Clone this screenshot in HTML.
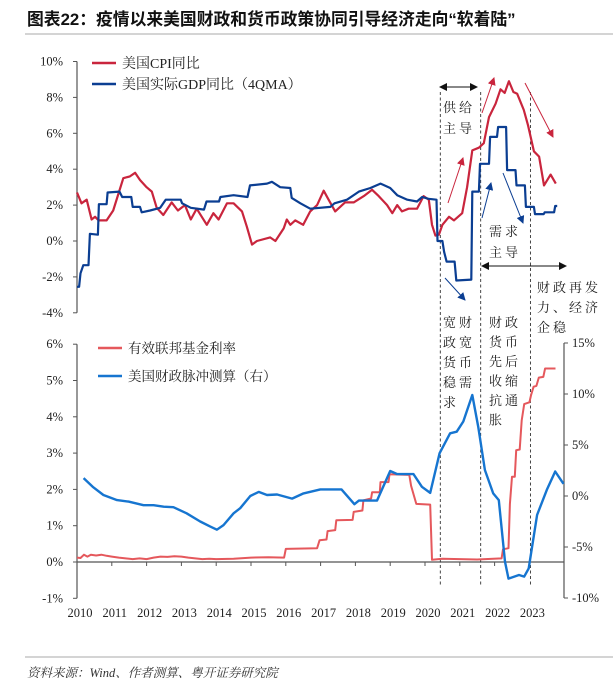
<!DOCTYPE html>
<html><head><meta charset="utf-8">
<style>
html,body{margin:0;padding:0;background:#fff;}
body{width:613px;height:693px;overflow:hidden;position:relative;font-family:"Liberation Serif","Noto Serif CJK SC",serif;}
#title{position:absolute;left:27px;top:6px;font-family:"Liberation Sans","Noto Sans CJK SC",sans-serif;font-weight:bold;font-size:16.8px;color:#111;white-space:nowrap;}
#footer{position:absolute;left:27px;top:663px;font-style:italic;font-size:12.5px;color:#333;font-family:"Liberation Serif","Noto Serif CJK SC",serif;}
svg{position:absolute;left:0;top:0;}
</style></head><body>
<div id="title">图表22：疫情以来美国财政和货币政策协同引导经济走向“软着陆”</div>
<div id="footer">资料来源：Wind、作者测算、粤开证券研究院</div>
<svg id="chart" width="613" height="693"></svg>
<script>
// ---- data ----
const cpiDates=[2010.0,2010.13,2010.28,2010.42,2010.52,2010.62,2010.85,2011.04,2011.33,2011.52,2011.67,2011.81,2012.0,2012.15,2012.29,2012.48,2012.72,2012.9,2013.1,2013.27,2013.44,2013.73,2013.92,2014.07,2014.31,2014.5,2014.74,2014.88,2015.03,2015.17,2015.55,2015.7,2015.94,2016.03,2016.13,2016.27,2016.5,2016.7,2016.9,2017.09,2017.23,2017.42,2017.7,2017.95,2018.24,2018.48,2018.67,2018.91,2019.06,2019.2,2019.34,2019.53,2019.77,2019.96,2020.11,2020.2,2020.3,2020.4,2020.5,2020.69,2020.83,2021.07,2021.21,2021.36,2021.55,2021.69,2021.84,2022.03,2022.17,2022.29,2022.41,2022.54,2022.65,2022.84,2022.96,2023.13,2023.28,2023.42,2023.61,2023.76];
const cpiValues=[2.7,2.1,2.3,1.2,1.35,1.15,1.15,1.7,3.5,3.6,3.8,3.4,3.0,2.75,1.85,1.45,2.15,1.7,2.0,1.2,1.8,0.9,1.55,1.2,2.1,2.1,1.65,0.8,-0.2,0.0,0.2,0.0,0.7,1.2,0.9,1.15,0.9,1.65,2.0,2.8,2.3,1.65,2.15,2.15,2.5,2.85,2.5,2.0,1.55,2.0,1.65,1.8,1.8,2.5,2.3,0.9,0.3,0.35,0.9,1.35,1.15,1.55,3.0,5.05,5.2,5.45,6.9,7.65,8.45,8.25,8.9,8.3,8.2,7.3,6.45,5.0,4.7,3.1,3.7,3.2];
const gdpDates=[2010.0,2010.06,2010.1,2010.18,2010.33,2010.37,2010.6,2010.63,2010.85,2010.88,2011.22,2011.3,2011.56,2011.6,2011.81,2011.86,2012.1,2012.39,2012.55,2012.98,2013.02,2013.27,2013.65,2013.72,2014.08,2014.12,2014.5,2014.9,2014.97,2015.46,2015.6,2015.84,2016.13,2016.17,2016.42,2016.7,2017.28,2017.4,2017.76,2018.1,2018.43,2018.72,2019.0,2019.2,2019.49,2019.77,2019.92,2020.1,2020.33,2020.36,2020.5,2020.55,2020.62,2020.85,2020.9,2021.33,2021.36,2021.55,2021.58,2021.84,2021.87,2022.07,2022.1,2022.33,2022.36,2022.6,2022.63,2022.87,2022.9,2023.13,2023.16,2023.41,2023.44,2023.71,2023.74,2023.8];
const gdpValues=[-2.55,-2.55,-1.8,-1.35,-1.35,0.4,0.35,2.05,2.05,2.7,2.75,2.45,2.45,1.9,1.9,1.6,1.7,1.85,2.3,2.3,2.1,1.85,1.75,2.2,2.2,2.45,2.55,2.45,3.1,3.2,3.3,3.0,2.95,2.4,2.1,1.8,1.9,2.1,2.3,2.75,2.95,3.2,2.95,2.55,2.3,2.2,2.45,2.35,2.3,0.0,0.0,-0.6,-1.15,-1.15,-2.2,-2.15,2.75,2.75,4.3,4.3,5.8,5.8,6.35,6.35,3.95,3.95,3.1,3.1,1.9,1.9,1.5,1.5,1.6,1.6,1.95,1.95];
const fedDates=[2010.0,2010.1,2010.2,2010.3,2010.4,2010.55,2010.7,2010.85,2011.0,2011.2,2011.4,2011.6,2011.8,2012.0,2012.2,2012.4,2012.6,2012.8,2013.0,2013.2,2013.4,2013.6,2013.8,2014.0,2014.5,2015.0,2015.5,2015.95,2016.0,2016.9,2016.97,2017.17,2017.2,2017.42,2017.45,2017.92,2017.95,2018.2,2018.23,2018.45,2018.48,2018.7,2018.72,2018.95,2018.98,2019.55,2019.6,2019.75,2020.15,2020.2,2020.5,2021.0,2021.5,2022.2,2022.24,2022.4,2022.44,2022.5,2022.58,2022.62,2022.72,2022.78,2022.85,2023.0,2023.05,2023.12,2023.2,2023.27,2023.4,2023.45,2023.75];
const fedValues=[0.12,0.11,0.2,0.15,0.2,0.18,0.2,0.17,0.15,0.12,0.1,0.08,0.1,0.08,0.12,0.15,0.14,0.16,0.15,0.12,0.1,0.08,0.09,0.08,0.09,0.12,0.13,0.12,0.36,0.38,0.6,0.62,0.85,0.88,1.15,1.16,1.38,1.42,1.7,1.75,1.92,1.92,2.2,2.2,2.42,2.4,2.1,1.6,1.58,0.06,0.09,0.08,0.07,0.1,0.35,0.38,1.6,2.35,2.35,3.08,3.1,3.9,4.35,4.4,4.6,4.83,4.85,5.08,5.1,5.33,5.33];
const fiscalDates=[2010.19,2010.45,2010.76,2011.15,2011.48,2011.91,2012.2,2012.49,2012.77,2013.15,2013.54,2013.83,2014.02,2014.21,2014.5,2014.69,2014.98,2015.22,2015.46,2015.75,2016.18,2016.51,2016.99,2017.6,2017.97,2018.1,2018.62,2019.0,2019.2,2019.67,2019.91,2020.15,2020.42,2020.72,2020.91,2021.1,2021.36,2021.53,2021.72,2021.96,2022.12,2022.3,2022.4,2022.7,2022.85,2022.98,2023.22,2023.5,2023.74,2023.98];
const fiscalValues=[1.75,0.9,0.1,-0.4,-0.55,-0.9,-0.9,-1.05,-1.1,-1.7,-2.5,-3.0,-3.3,-2.85,-1.7,-1.2,0.0,0.4,0.1,0.15,-0.25,0.25,0.65,0.65,-0.8,-0.45,-0.45,2.45,2.15,2.15,0.9,0.3,4.2,6.15,6.3,7.3,9.9,6.8,2.55,0.25,-0.4,-6.45,-8.1,-7.75,-7.9,-7.1,-1.85,0.6,2.4,1.2];
const topTicks=[10,8,6,4,2,0,-2,-4];
const leftTicks=[6,5,4,3,2,1,0,-1];
const rightTicks=[15,10,5,0,-5,-10];
const years=[2010,2011,2012,2013,2014,2015,2016,2017,2018,2019,2020,2021,2022,2023];

// ---- scales ----
const X=t=>77+(t-2010)*34.8;
const YT=v=>241-v*17.95;
const YL=v=>562-v*36.3;
const YR=v=>496-v*10.2;
const NS='http://www.w3.org/2000/svg';
const svg=document.getElementById('chart');
function el(tag,attrs,parent){const e=document.createElementNS(NS,tag);for(const k in attrs)e.setAttribute(k,attrs[k]);(parent||svg).appendChild(e);return e;}
function txt(s,x,y,anchor,size,fill,parent){const t=el('text',{x:x,y:y,'text-anchor':anchor,'font-size':size,fill:fill||'#222','font-family':'"Liberation Serif","Noto Serif CJK SC",serif'},parent);t.textContent=s;return t;}
function path(dates,vals,ys,color,w,name){let d='';for(let i=0;i<dates.length;i++){d+=(i?'L':'M')+X(dates[i]).toFixed(1)+','+ys(vals[i]).toFixed(1);}const p=el('path',{d:d,fill:'none',stroke:color,'stroke-width':w,'stroke-linejoin':'round'});


return p;}

el('line',{x1:25,y1:34,x2:613,y2:34,stroke:'#bbb','stroke-width':1.2});
el('line',{x1:25,y1:657,x2:613,y2:657,stroke:'#bbb','stroke-width':1.2});

// top axis
const ta=el('g',{});


el('line',{x1:77,y1:YT(10),x2:77,y2:YT(-4),stroke:'#555','stroke-width':1.2},ta);
topTicks.forEach(v=>{el('line',{x1:73,y1:YT(v),x2:77,y2:YT(v),stroke:'#555'},ta);const t=txt(v+'%',63,YT(v)+4,'end',12.5,'#222',ta);

});

// bottom axes
const ba=el('g',{});


el('line',{x1:77,y1:YL(6),x2:77,y2:YL(-1),stroke:'#555','stroke-width':1.2},ba);
el('line',{x1:564,y1:YR(15),x2:564,y2:YR(-10),stroke:'#555','stroke-width':1.2},ba);
el('line',{x1:77,y1:YL(0),x2:564,y2:YL(0),stroke:'#555','stroke-width':1.2},ba);
leftTicks.forEach(v=>{el('line',{x1:73,y1:YL(v),x2:77,y2:YL(v),stroke:'#555'},ba);const t=txt(v+'%',63,YL(v)+4,'end',12.5,'#222',ba);

});
rightTicks.forEach(v=>{el('line',{x1:564,y1:YR(v),x2:568,y2:YR(v),stroke:'#555'},ba);const t=txt(v+'%',572,YR(v)+4,'start',12.5,'#222',ba);

});
years.forEach(y=>{el('line',{x1:X(y),y1:YL(0),x2:X(y),y2:YL(0)+4,stroke:'#555'},ba);const t=txt(String(y),X(y)+3,617,'middle',12.5,'#222',ba);

});

// dashed separators
[2020.44,2021.6,2023.03].forEach(t=>{const l=el('line',{x1:X(t),y1:92,x2:X(t),y2:585,stroke:'#333','stroke-width':0.9,'stroke-dasharray':'3,2.5'});

});

// series
path(fedDates,fedValues,YL,'#E5585C',2,'fed-funds-line');
path(fiscalDates,fiscalValues,YR,'#1675D0',2.4,'fiscal-pulse-line');
path(cpiDates,cpiValues,YT,'#C9253D',2.2,'cpi-line');
path(gdpDates,gdpValues,YT,'#0B3E92',2.2,'gdp-line');

// legends
function legend(x,y,color,label,name,size){const g=el('g',{});


el('line',{x1:x,y1:y,x2:x+24,y2:y,stroke:color,'stroke-width':2.5},g);txt(label,x+30,y+5,'start',size||14,'#222',g);}
legend(92,63,'#C9253D','美国CPI同比','legend-cpi');
legend(92,84,'#0B3E92','美国实际GDP同比（4QMA）','legend-gdp');
legend(98,348,'#E5585C','有效联邦基金利率','legend-fed-funds',13.5);
legend(98,376,'#1675D0','美国财政脉冲测算（右）','legend-fiscal-pulse',13.5);

// arrows
const defs=el('defs',{});
function mk(id,c){const m=el('marker',{id:id,markerWidth:8,markerHeight:8,refX:7,refY:4,orient:'auto',markerUnits:'userSpaceOnUse'},defs);el('path',{d:'M0,0 L8,4 L0,8 Z',fill:c},m);}
mk('ar','#C9253D');mk('ab','#0B3E92');mk('ak','#111');
const ms=el('marker',{id:'aks',markerWidth:8,markerHeight:8,refX:1,refY:4,orient:'auto',markerUnits:'userSpaceOnUse'},defs);el('path',{d:'M8,0 L0,4 L8,8 Z',fill:'#111'},ms);
function arrow(x1,y1,x2,y2,m,c,name){const l=el('line',{x1:x1,y1:y1,x2:x2,y2:y2,stroke:c,'stroke-width':1,'marker-end':'url(#'+m+')'});

}
arrow(448,203,463,158,'ar','#C9253D','cpi-rise-arrow-1');
arrow(482,113,494,78,'ar','#C9253D','cpi-rise-arrow-2');
arrow(525,83,553,137,'ar','#C9253D','cpi-fall-arrow');
arrow(445,278,465,300,'ab','#0B3E92','gdp-fall-arrow');
arrow(482,218,491,183,'ab','#0B3E92','gdp-rise-arrow');
arrow(503,173,523,223,'ab','#0B3E92','gdp-decline-arrow');
function dbl2(x1,x2,y,name){const l=el('line',{x1:x1,y1:y,x2:x2,y2:y,stroke:'#111','stroke-width':1,'marker-end':'url(#ak)','marker-start':'url(#aks)'});

}
dbl2(440,477,87,'supply-phase-arrow');
dbl2(482,566,266,'demand-phase-arrow');

// annotations
function rows(lines,x,y0,dy,name){const g=el('g',{});


lines.forEach((s,i)=>{const t=txt(s,x,y0+i*dy,'start',13,'#222',g);t.setAttribute('letter-spacing','3');});}
rows(['供给','主导'],443,112,21,'supply-led-note');
rows(['需求','主导'],489,236,21,'demand-led-note');
rows(['财政再发','力、经济','企稳'],537,292,20,'fiscal-revival-note');
rows(['宽财','政宽','货币','稳需','求'],443,327,20,'easing-note');
rows(['财政','货币','先后','收缩','抗通','胀'],489,327,19.5,'tightening-note');
</script>
</body></html>
